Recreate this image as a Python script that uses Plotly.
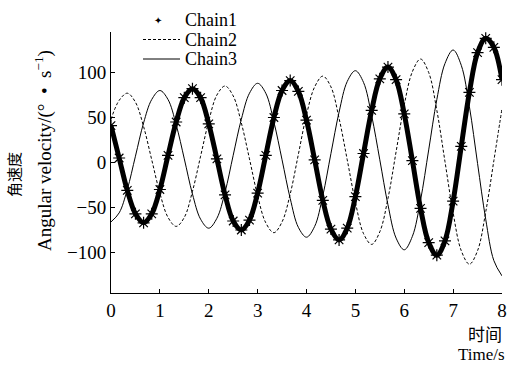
import plotly.graph_objects as go

# time axis (s), sampled every 1/6 s from 0 to 8
time_s = [k / 6 for k in range(49)]

chain1 = [41, 5, -31, -57, -67, -57, -30, 8, 45, 72, 82, 72, 43, 4, -36, -65, -75,
          -64, -34, 8, 50, 80, 91, 79, 47, 3, -42, -74, -86, -73, -38, 10, 58, 93,
          106, 92, 54, 2, -51, -89, -103, -87, -43, 18, 78, 122, 138, 128, 92]
chain2 = [48, 69, 77, 67, 40, 3, -34, -61, -71, -61, -32, 7, 46, 75, 85, 74, 44,
          4, -37, -67, -78, -66, -35, 9, 53, 84, 96, 84, 49, 3, -44, -79, -91, -77,
          -40, 12, 64, 101, 115, 100, 58, 1, -56, -98, -113, -98, -55, 2, 60]
chain3 = [-66, -56, -30, 7, 44, 70, 80, 70, 42, 4, -35, -63, -73, -62, -33, 8, 48,
          77, 88, 77, 45, 3, -40, -72, -83, -71, -37, 10, 56, 90, 102, 89, 52, 3,
          -47, -84, -97, -82, -42, 14, 70, 110, 125, 108, 62, -1, -63, -109, -126]

series_names = ["Chain1", "Chain2", "Chain3"]
x_ticks = [0, 1, 2, 3, 4, 5, 6, 7, 8]
y_ticks = [-100, -50, 0, 50, 100]

SERIF = "Liberation Serif, Noto Sans CJK SC, serif"
CJK = "Noto Sans CJK SC, sans-serif"

fig = go.Figure()

# Chain1: thick band of star markers
fig.add_trace(go.Scatter(
    x=time_s, y=chain1, mode="lines+markers", name=series_names[0],
    line=dict(color="black", width=5, shape="spline"),
    marker=dict(symbol="asterisk-open", size=10, color="black",
                line=dict(color="black", width=1.2)),
    showlegend=False))
fig.add_trace(go.Scatter(
    x=time_s, y=chain2, mode="lines", name=series_names[1],
    line=dict(color="black", width=1, dash="3px,2px", shape="spline"),
    showlegend=False))
fig.add_trace(go.Scatter(
    x=time_s, y=chain3, mode="lines", name=series_names[2],
    line=dict(color="black", width=1, shape="spline"),
    showlegend=False))

fig.update_layout(
    width=511, height=366,
    margin=dict(l=111, r=9, t=32, b=73, autoexpand=False),
    paper_bgcolor="white", plot_bgcolor="white",
    font=dict(family=SERIF, size=19, color="black"),
    showlegend=False,
    xaxis=dict(range=[0, 8], tickvals=x_ticks, ticks="inside", ticklen=4,
               tickcolor="black", showline=True, linecolor="black", linewidth=1,
               showgrid=False, zeroline=False, tickfont=dict(family=SERIF, size=19)),
    yaxis=dict(range=[-145, 145], tickvals=y_ticks, ticks="inside", ticklen=4,
               tickcolor="black", showline=True, linecolor="black", linewidth=1,
               showgrid=False, zeroline=False, tickfont=dict(family=SERIF, size=19)),
)

# helpers: pixel -> paper coordinates (plot area 111..502 x, 32..293 y)
def px(x):
    return (x - 111) / 391.0

def py(y):
    return (293 - y) / 261.0

# manual legend (tighter spacing than plotly's built-in legend)
legend_rows = [20, 39.5, 59]
fig.add_annotation(xref="paper", yref="paper", x=px(158), y=py(legend_rows[0]),
                   text="✦", showarrow=False, xanchor="center", yanchor="middle",
                   font=dict(family="DejaVu Sans", size=10, color="black"))
fig.add_shape(type="line", xref="paper", yref="paper",
              x0=px(143), x1=px(180), y0=py(legend_rows[1]), y1=py(legend_rows[1]),
              line=dict(color="black", width=1, dash="3px,2px"))
fig.add_shape(type="line", xref="paper", yref="paper",
              x0=px(143), x1=px(180), y0=py(legend_rows[2]), y1=py(legend_rows[2]),
              line=dict(color="black", width=1))
for name, row in zip(series_names, legend_rows):
    fig.add_annotation(xref="paper", yref="paper", x=px(183), y=py(row),
                       text=name, showarrow=False, xanchor="left",
                       yanchor="middle", font=dict(family=SERIF, size=18))

annos = [
    dict(text="角速度", x=px(13), y=py(175), textangle=-90,
         font=dict(family=CJK, size=15)),
    dict(text="Angular velocity/(°  •  s<sup>−1</sup>)", x=px(43), y=py(151),
         textangle=-90, font=dict(family=SERIF, size=19)),
    dict(text="时间", x=px(504), y=py(333), xanchor="right",
         font=dict(family=CJK, size=17)),
    dict(text="Time/s", x=px(507), y=py(354), xanchor="right",
         font=dict(family=SERIF, size=17)),
]
for a in annos:
    a.setdefault("xanchor", "center")
    fig.add_annotation(xref="paper", yref="paper", showarrow=False,
                       yanchor="middle", **a)

fig.write_html("out.html", config={"displayModeBar": False},
               post_script="document.body.style.margin='0';"
                           "document.body.style.overflow='hidden';")
